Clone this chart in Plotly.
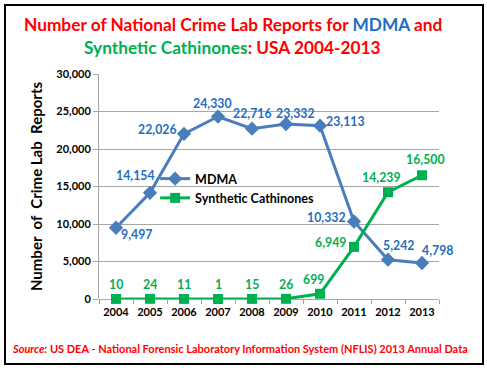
import plotly.graph_objects as go

years = ["2004", "2005", "2006", "2007", "2008", "2009", "2010", "2011", "2012", "2013"]
mdma = [9497, 14154, 22026, 24330, 22716, 23332, 23113, 10332, 5242, 4798]
cath = [10, 24, 11, 1, 15, 26, 699, 6949, 14239, 16500]
y_ticks = [0, 5000, 10000, 15000, 20000, 25000, 30000]

# label offsets in pixels (styling only)
mdma_dx = [20, -15, -27, -6, 0, 9, 25, -28, 10, 15]
mdma_dy = [-7, 17, 4, 13, 15, 11, 4, 4, 14, 13]
cath_dx = [0, 0, 0, 0, 0, 0, -7, -24, -7, 3]
cath_dy = [14, 14, 14, 14, 14, 14, 14, 4, 15, 16]

FONT = "Lato"
BLUE_LINE = "#4A7EBB"
BLUE_TXT = "#1F6EC2"
GREEN = "#00B050"
RED = "#FF0000"

fig = go.Figure()
fig.add_trace(go.Scatter(
    x=years, y=mdma, name="MDMA", mode="lines+markers",
    line=dict(color=BLUE_LINE, width=3),
    marker=dict(symbol="diamond", size=11, color=BLUE_LINE),
    cliponaxis=False,
))
fig.add_trace(go.Scatter(
    x=years, y=cath, name="Synthetic Cathinones", mode="lines+markers",
    line=dict(color=GREEN, width=3),
    marker=dict(symbol="square", size=10, color=GREEN),
    cliponaxis=False,
))

annotations = []
# on a category axis, annotation x is the category index
for i, (v, dx, dy) in enumerate(zip(mdma, mdma_dx, mdma_dy)):
    annotations.append(dict(x=i, y=v, xref="x", yref="y", text=f"{v:,}",
                            showarrow=False, xshift=dx, yshift=dy,
                            font=dict(family=FONT, size=12.3, color=BLUE_TXT, weight="bold")))
for i, (v, dx, dy) in enumerate(zip(cath, cath_dx, cath_dy)):
    annotations.append(dict(x=i, y=v, xref="x", yref="y", text=f"{v:,}",
                            showarrow=False, xshift=dx, yshift=dy,
                            font=dict(family=FONT, size=12.3, color=GREEN, weight="bold")))

annotations += [
    dict(text=("<span style='color:#FF0000'>Number of National Crime Lab Reports for </span>"
               "<span style='color:#1F6EC2'>MDMA</span><span style='color:#FF0000'> and</span>"),
         xref="paper", yref="paper", x=0.394, y=1.218, xanchor="center", yanchor="middle",
         showarrow=False, font=dict(family=FONT, size=17.3, weight="bold")),
    dict(text=("<span style='color:#00B050'>Synthetic Cathinones</span>"
               "<span style='color:#FF0000'>: USA 2004-2013</span>"),
         xref="paper", yref="paper", x=0.394, y=1.116, xanchor="center", yanchor="middle",
         showarrow=False, font=dict(family=FONT, size=17.3, weight="bold")),
    dict(text=("<i>Source:</i> US DEA - National Forensic Laboratory Information "
               "System (NFLIS) 2013 Annual Data"),
         xref="paper", yref="paper", x=-0.262, y=-0.218,
         xanchor="left", yanchor="middle", showarrow=False,
         font=dict(family=FONT, size=11, color=RED, weight="bold")),
]

fig.update_layout(
    width=487, height=373,
    margin=dict(l=99, r=48, t=74, b=74, autoexpand=False),
    paper_bgcolor="white", plot_bgcolor="white",
    font=dict(family=FONT, color="black"),
    showlegend=True,
    legend=dict(x=0.165, y=0.6, xanchor="left", yanchor="top",
                bgcolor="rgba(0,0,0,0)", font=dict(size=12.5, weight="bold"),
                itemwidth=30),
    xaxis=dict(
        type="category", range=[-0.5, 9.5], showgrid=False, showline=False, automargin=False,
        ticks="outside", ticklen=4, tickcolor="#A0A0A0", tickson="boundaries",
        ticklabelstandoff=5,
        tickangle=0, tickfont=dict(size=11, weight="bold"),
    ),
    yaxis=dict(
        range=[0, 30000], tickvals=y_ticks, tickformat=",", automargin=False,
        showgrid=True, gridcolor="#A6A6A6", gridwidth=1,
        showline=True, linecolor="#A6A6A6", linewidth=1,
        ticks="outside", ticklen=5, tickcolor="#A6A6A6",
        zeroline=True, zerolinecolor="#A6A6A6", zerolinewidth=1,
        tickfont=dict(size=11, weight="bold"),
        title=dict(text="Number  of  Crime Lab  Reports", standoff=10,
                   font=dict(size=15, weight="bold")),
    ),
    annotations=annotations,
    shapes=[dict(type="rect", xref="paper", yref="paper",
                 x0=-0.2765, x1=1.1294, y0=-0.2889, y1=1.3067,
                 line=dict(color="black", width=2), fillcolor="rgba(0,0,0,0)")],
)

fig.write_html("out.html", config={"displayModeBar": False},
               post_script="document.body.style.margin='0';document.body.style.padding='0';")
